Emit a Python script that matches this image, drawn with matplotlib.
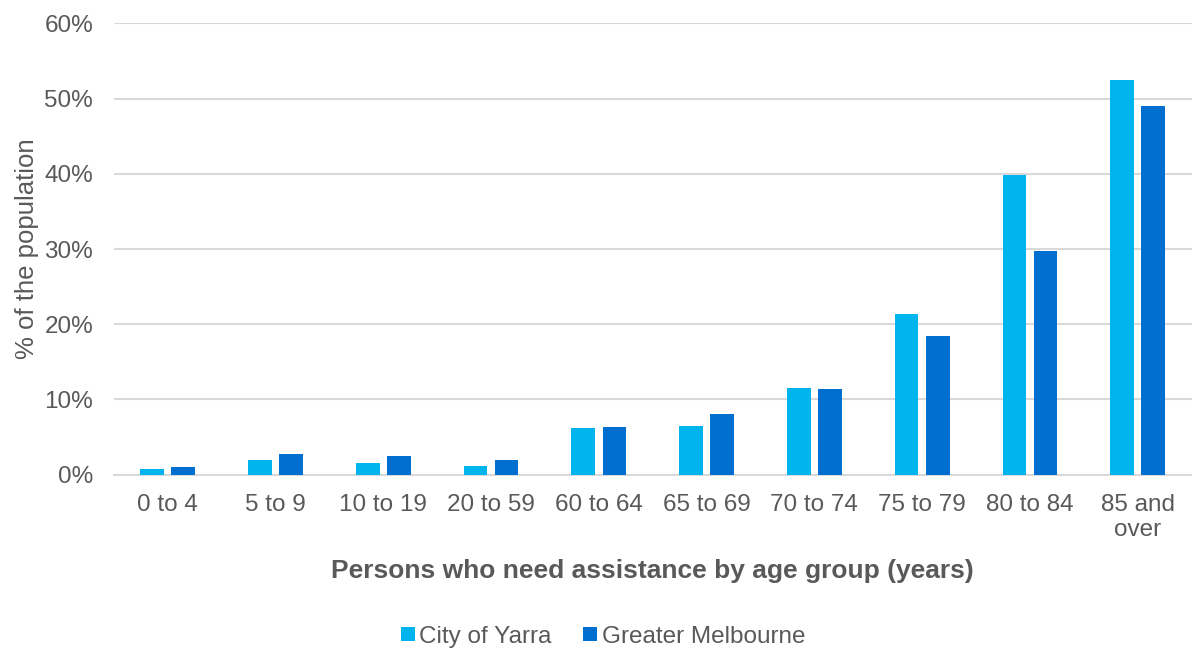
import numpy as np
import matplotlib.pyplot as plt
from matplotlib.ticker import PercentFormatter

# ===== DATA =====
age_groups = ["0 to 4", "5 to 9", "10 to 19", "20 to 59", "60 to 64",
              "65 to 69", "70 to 74", "75 to 79", "80 to 84", "85 and\nover"]
yarra = [0.7, 1.9, 1.5, 1.2, 6.2, 6.5, 11.5, 21.3, 39.9, 52.5]
melbourne = [0.95, 2.8, 2.5, 2.0, 6.3, 8.05, 11.4, 18.4, 29.7, 49.0]

# ===== STYLE =====
plt.rcParams["font.family"] = ["Liberation Sans", "DejaVu Sans"]
TEXT = "#595959"
GRID = "#D9D9D9"
YARRA_C = "#00B4EE"
MELB_C = "#006FCF"

fig = plt.figure(figsize=(11.92, 6.51), dpi=100)
ax = fig.add_axes([0.0956, 0.271, 0.904, 0.693])

x = np.arange(len(age_groups))
w = 0.22
off = 0.144
ax.bar(x - off, yarra, w, color=YARRA_C, label="City of Yarra", zorder=3)
ax.bar(x + off, melbourne, w, color=MELB_C, label="Greater Melbourne", zorder=3)

ax.set_xlim(-0.5, len(age_groups) - 0.5)
ax.set_ylim(0, 60)
ax.set_yticks(np.arange(0, 61, 10))
ax.yaxis.set_major_formatter(PercentFormatter(decimals=0))
ax.grid(axis="y", color=GRID, linewidth=1.5, zorder=0)
ax.set_axisbelow(True)

ax.set_xticks(x)
ax.set_xticklabels(age_groups, fontsize=17.5, color=TEXT, linespacing=1.2)
ax.tick_params(axis="y", labelsize=17.5, labelcolor=TEXT, length=0, pad=15)
ax.tick_params(axis="x", length=0, pad=14)

for side in ["top", "right", "left"]:
    ax.spines[side].set_visible(False)
ax.spines["bottom"].set_color(GRID)
ax.spines["bottom"].set_linewidth(1.5)

ax.set_ylabel("% of the population", fontsize=18.5, color=TEXT, labelpad=4)
ax.set_xlabel("Persons who need assistance by age group (years)",
              fontsize=19, color=TEXT, fontweight="bold", labelpad=13)

# ===== LEGEND =====
fig.legend(loc="center", bbox_to_anchor=(0.506, 0.022), ncol=2, frameon=False,
           fontsize=17.5, labelcolor=TEXT, handlelength=0.55, handleheight=0.55,
           handletextpad=0.2, columnspacing=1.3)

fig.savefig("out.png", dpi=100)
